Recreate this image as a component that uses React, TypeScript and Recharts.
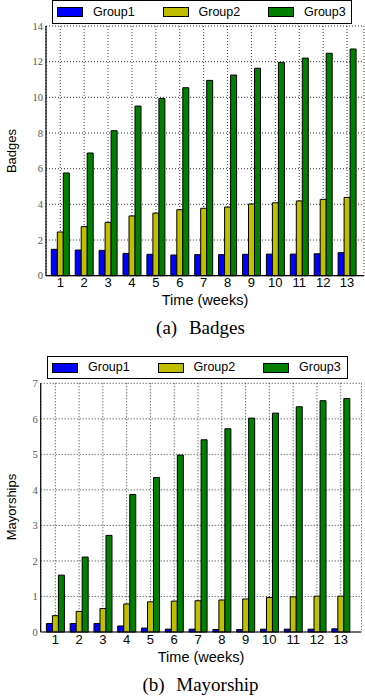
import React from 'react';
import { BarChart, Bar, XAxis, YAxis, CartesianGrid } from 'recharts';

const weeks = ['1', '2', '3', '4', '5', '6', '7', '8', '9', '10', '11', '12', '13'];
const groupNames = ['Group1', 'Group2', 'Group3'];
const groupColors = ['#0000ff', '#bfbf00', '#008000'];

const badgesGroup1 = [1.48, 1.44, 1.42, 1.25, 1.2, 1.16, 1.18, 1.18, 1.2, 1.21, 1.21, 1.23, 1.29];
const badgesGroup2 = [2.45, 2.75, 2.99, 3.35, 3.51, 3.7, 3.78, 3.85, 4.02, 4.09, 4.19, 4.28, 4.39];
const badgesGroup3 = [5.76, 6.88, 8.13, 9.51, 9.94, 10.54, 10.95, 11.25, 11.63, 11.96, 12.2, 12.47, 12.71];

const mayorGroup1 = [0.24, 0.24, 0.24, 0.17, 0.11, 0.08, 0.08, 0.07, 0.07, 0.08, 0.08, 0.08, 0.09];
const mayorGroup2 = [0.46, 0.58, 0.66, 0.79, 0.85, 0.87, 0.88, 0.9, 0.93, 0.97, 0.99, 1.01, 1.01];
const mayorGroup3 = [1.6, 2.11, 2.72, 3.87, 4.35, 4.98, 5.41, 5.72, 6.02, 6.16, 6.34, 6.51, 6.57];

const badgeTicks = [0, 2, 4, 6, 8, 10, 12, 14];
const mayorTicks = [0, 1, 2, 3, 4, 5, 6, 7];

const build = (a: number[], b: number[], c: number[]) =>
  weeks.map((w, i) => ({ week: w, g1: a[i], g2: b[i], g3: c[i] }));

const badgesData = build(badgesGroup1, badgesGroup2, badgesGroup3);
const mayorData = build(mayorGroup1, mayorGroup2, mayorGroup3);

const SANS = '"Liberation Sans", Arial, Helvetica, sans-serif';
const SERIF = '"Liberation Serif", "Times New Roman", serif';

type PanelProps = {
  data: any[];
  ticks: number[];
  top: number;
  height: number;
  marginTop: number;
  marginRight: number;
  yWidth: number;
  xHeight: number;
  padL: number;
  padR: number;
  rightLine: boolean;
  ylabel: string;
  ylabelY: number;
  xlabelX: number;
  xlabelY: number;
  caption: string;
  captionY: number;
  legendLeft: number;
  legendTop: number;
  legendWidth: number;
  legendHeight: number;
};

const Panel = (p: PanelProps) => {
  const keys = ['g1', 'g2', 'g3'];
  return (
    <>
      <div style={{ position: 'absolute', left: 0, top: p.top, width: 365, height: p.height }}>
        <BarChart
          width={365}
          height={p.height}
          data={p.data}
          margin={{ top: p.marginTop, right: p.marginRight, left: 0, bottom: 0 }}
          barCategoryGap={3}
          barGap={0}
        >
          <XAxis
            dataKey="week"
            height={p.xHeight}
            padding={{ left: p.padL, right: p.padR }}
            tickLine={false}
            tickSize={0}
            tickMargin={2.5}
            axisLine={{ stroke: '#000', strokeWidth: 1.2 }}
            tick={{ fill: '#000', fontSize: 13, fontFamily: SANS }}
            interval={0}
          />
          <XAxis
            xAxisId="top"
            dataKey="week"
            orientation="top"
            height={0}
            mirror
            padding={{ left: p.padL, right: p.padR }}
            tick={false}
            tickLine={{ stroke: '#000', strokeWidth: 1 }}
            tickSize={4}
            axisLine={{ stroke: '#000', strokeWidth: 1.2 }}
            interval={0}
          />
          <YAxis
            width={p.yWidth}
            domain={[p.ticks[0], p.ticks[p.ticks.length - 1]]}
            ticks={p.ticks}
            tickLine={false}
            tickSize={0}
            tickMargin={3}
            axisLine={{ stroke: '#000', strokeWidth: 1.2 }}
            tick={{ fill: '#555', fontSize: 10.5, fontFamily: SERIF }}
            interval={0}
          />
          <YAxis
            yAxisId="right"
            orientation="right"
            width={0}
            mirror
            domain={[p.ticks[0], p.ticks[p.ticks.length - 1]]}
            ticks={p.ticks}
            tick={false}
            tickLine={{ stroke: '#000', strokeWidth: 1 }}
            tickSize={4}
            axisLine={p.rightLine ? { stroke: '#000', strokeWidth: 1.2 } : false}
            interval={0}
          />
          {keys.map((k, i) => (
            <Bar
              key={k}
              dataKey={k}
              name={groupNames[i]}
              fill={groupColors[i]}
              stroke="#000"
              strokeWidth={1}
              isAnimationActive={false}
            />
          ))}
          <CartesianGrid stroke="#000" strokeWidth={0.8} strokeDasharray="1 2" />
        </BarChart>
      </div>
      <div
        style={{
          position: 'absolute',
          left: p.legendLeft,
          top: p.legendTop,
          width: p.legendWidth,
          height: p.legendHeight,
          border: '1px solid #000',
          background: '#fff',
          boxSizing: 'border-box',
        }}
      >
        {groupNames.map((n, i) => (
          <React.Fragment key={n}>
            <div
              style={{
                position: 'absolute',
                left: 4 + i * 105.5,
                top: (p.legendHeight - 2 - 10) / 2,
                width: 26,
                height: 10,
                background: groupColors[i],
                border: '1px solid #000',
                boxSizing: 'border-box',
              }}
            />
            <div
              style={{
                position: 'absolute',
                left: 40 + i * 105.5,
                top: 0,
                lineHeight: `${p.legendHeight - 2}px`,
                fontSize: 12.5,
                fontFamily: SANS,
                color: '#000',
                whiteSpace: 'nowrap',
              }}
            >
              {n}
            </div>
          </React.Fragment>
        ))}
      </div>
      <div
        style={{
          position: 'absolute',
          left: 12,
          top: p.ylabelY,
          transform: 'translate(-50%, -50%) rotate(-90deg)',
          fontSize: 13,
          fontFamily: SANS,
          whiteSpace: 'nowrap',
          lineHeight: '16px',
        }}
      >
        {p.ylabel}
      </div>
      <div
        style={{
          position: 'absolute',
          left: p.xlabelX,
          top: p.xlabelY,
          transform: 'translate(-50%, -50%)',
          fontSize: 14.5,
          fontFamily: SANS,
          whiteSpace: 'nowrap',
          lineHeight: '16px',
        }}
      >
        Time (weeks)
      </div>
      <div
        style={{
          position: 'absolute',
          left: 200.5,
          top: p.captionY,
          transform: 'translate(-50%, -50%)',
          fontSize: 19,
          fontFamily: SERIF,
          whiteSpace: 'nowrap',
          wordSpacing: 7,
          lineHeight: '22px',
        }}
      >
        {p.caption}
      </div>
    </>
  );
};

export default function App() {
  return (
    <div style={{ position: 'absolute', left: 0, top: 0, width: 365, height: 698, background: '#fff', overflow: 'hidden' }}>
      <Panel
        data={badgesData}
        ticks={badgeTicks}
        top={0}
        height={310}
        marginTop={26}
        marginRight={1}
        yWidth={46}
        xHeight={34.3}
        padL={2.3}
        padR={5}
        rightLine={false}
        ylabel="Badges"
        ylabelY={151}
        xlabelX={205}
        xlabelY={300}
        caption="(a) Badges"
        captionY={328}
        legendLeft={52}
        legendTop={0}
        legendWidth={300}
        legendHeight={24}
      />
      <Panel
        data={mayorData}
        ticks={mayorTicks}
        top={350}
        height={310}
        marginTop={33.3}
        marginRight={3.5}
        yWidth={40.7}
        xHeight={28}
        padL={2.7}
        padR={8.9}
        rightLine={true}
        ylabel="Mayorships"
        ylabelY={507}
        xlabelX={201}
        xlabelY={657}
        caption="(b) Mayorship"
        captionY={685}
        legendLeft={47}
        legendTop={356}
        legendWidth={301}
        legendHeight={23}
      />
    </div>
  );
}
